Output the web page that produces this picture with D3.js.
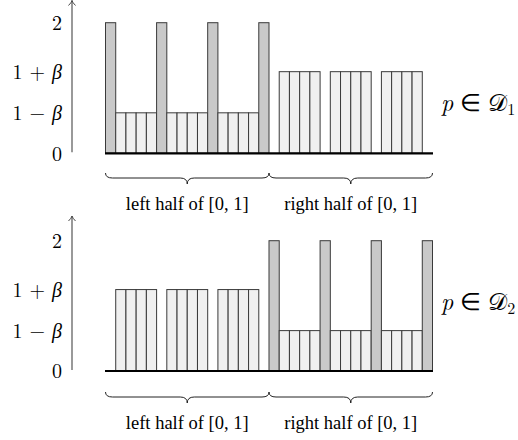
<!DOCTYPE html>
<html><head><meta charset="utf-8">
<script src="https://cdn.jsdelivr.net/npm/d3@7"></script>
<style>body{margin:0;background:#fff}svg{display:block}</style>
</head><body><svg id="c" width="518" height="440"></svg>
<script>
// ---- data ----
const slotCount = 32;
const halfLabels = ["left half of [0, 1]", "right half of [0, 1]"];
const tickValues = [0, 0.62, 1.25, 2];
const tickLabels = ["0", "1 − β", "1 + β", "2"];
const panelSubscripts = ["1", "2"];
const valuesD1 = [2,0.62,0.62,0.62,0.62,2,0.62,0.62,0.62,0.62,2,0.62,0.62,0.62,0.62,2,
                  0,1.25,1.25,1.25,1.25,0,1.25,1.25,1.25,1.25,0,1.25,1.25,1.25,1.25,0];
const valuesD2 = [0,1.25,1.25,1.25,1.25,0,1.25,1.25,1.25,1.25,0,1.25,1.25,1.25,1.25,0,
                  2,0.62,0.62,0.62,0.62,2,0.62,0.62,0.62,0.62,2,0.62,0.62,0.62,0.62,2];

// ---- layout ----
const svg = d3.select("#c");
const x = d3.scaleBand().domain(d3.range(slotCount)).range([105.5, 432.5]).padding(0);
const panels = [
  {values: valuesD1, base: 153.3, top: 22.7, arrowTip: 0.5, braceY: 173, labelY: 210, dLabelY: 111},
  {values: valuesD2, base: 371, top: 240.7, arrowTip: 216, braceY: 392, labelY: 429, dLabelY: 310}
];
const axisX = 72;
const MATH = '"Latin Modern Roman"';
const TEXT = '"Liberation Serif"';

function bracePath(x0, x1, yt) {
  const ym = yt + 5, yb = yt + 11, xm = (x0 + x1) / 2, r = 7;
  return `M${x0},${yt} Q${x0},${ym} ${x0+r},${ym} L${xm-r},${ym} Q${xm},${ym} ${xm},${yb}` +
         ` Q${xm},${ym} ${xm+r},${ym} L${x1-r},${ym} Q${x1},${ym} ${x1},${yt}`;
}

panels.forEach((p, pi) => {
  const y = d3.scaleLinear().domain([0, 2]).range([p.base, p.top]);
  const g = svg.append("g");

  // bars
  g.selectAll("rect.bar").data(p.values.map((v, i) => ({i, v})).filter(d => d.v > 0))
    .join("rect").attr("class", "bar")
    .attr("x", d => x(d.i)).attr("width", x.bandwidth())
    .attr("y", d => y(d.v)).attr("height", d => y(0) - y(d.v))
    .attr("fill", d => d.v === 2 ? "#c9c9c9" : "#f0f0f0")
    .attr("stroke", "#3a3a3a").attr("stroke-width", 1);

  // baseline
  g.append("line").attr("x1", x(0) - 0.5).attr("x2", x(slotCount - 1) + x.bandwidth() + 0.5)
    .attr("y1", y(0)).attr("y2", y(0)).attr("stroke", "#000").attr("stroke-width", 2.2);

  // y axis with labels
  const axis = d3.axisLeft(y).tickValues(tickValues).tickSize(0).tickPadding(10)
    .tickFormat((d, i) => tickLabels[i]);
  const ag = g.append("g").attr("transform", `translate(${axisX},0)`).call(axis)
    .attr("font-family", null).attr("font-size", null);
  ag.select(".domain").remove();
  ag.selectAll(".tick text").each(function(d, i) {
    const t = d3.select(this);
    const lab = tickLabels[i];
    t.text(null).style("font-family", MATH)
      .style("font-size", "20px").attr("fill", "#000").attr("dy", "0.34em");
    if (lab.length > 1) {
      const parts = lab.split(" ");
      t.append("tspan").text(parts[0]);
      t.append("tspan").attr("dx", 7).text(parts[1]);
      t.append("tspan").attr("dx", 7).style("font-style", "italic").text(parts[2]);
    } else {
      t.text(lab);
    }
  });
  // axis line with arrow
  g.append("line").attr("x1", axisX).attr("x2", axisX).attr("y1", y(0) - 1).attr("y2", p.arrowTip)
    .attr("stroke", "#6e6e6e").attr("stroke-width", 1.4);
  g.append("path")
    .attr("d", `M${axisX-3.5},${p.arrowTip+5} Q${axisX-0.5},${p.arrowTip+2} ${axisX},${p.arrowTip} Q${axisX+0.5},${p.arrowTip+2} ${axisX+3.5},${p.arrowTip+5}`)
    .attr("fill", "none").attr("stroke", "#4a4a4a").attr("stroke-width", 1);

  // braces and labels
  halfLabels.forEach((lab, hi) => {
    const x0 = x(hi * 16), x1 = hi === 0 ? x(16) : x(31) + x.bandwidth();
    g.append("path").attr("d", bracePath(x0, x1, p.braceY))
      .attr("fill", "none").attr("stroke", "#222").attr("stroke-width", 1);
    g.append("text").attr("x", (x0 + x1) / 2).attr("y", p.labelY)
      .attr("text-anchor", "middle")
      .style("font-family", TEXT)
      .style("font-size", "18.5px").attr("fill", "#000").text(lab);
  });

  // right label p ∈ D_i
  const rt = g.append("text").attr("x", 441).attr("y", p.dLabelY)
    .style("font-family", MATH).style("font-size", "24px").attr("fill", "#000");
  rt.append("tspan").style("font-style", "italic").text("p");
  rt.append("tspan").attr("dx", 7).text("∈");
  rt.append("tspan").attr("dx", 7).text("𝒟");
  rt.append("tspan").style("font-size", "16px").attr("dy", 4).text(panelSubscripts[pi]);
});
</script>
</body></html>
